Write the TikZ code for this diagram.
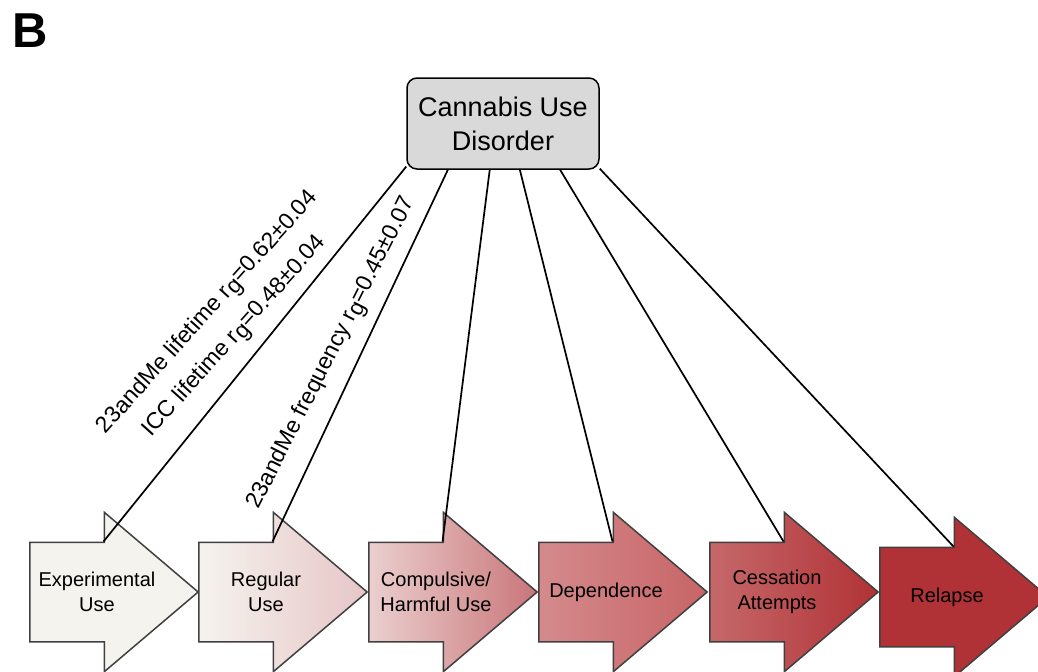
\documentclass[tikz,border=0pt]{standalone}
\usepackage{fontspec}
\setmainfont{Liberation Sans}
\usetikzlibrary{shapes.arrows}

\definecolor{cream}{HTML}{F5F3EE}
\definecolor{blush}{HTML}{E6C6C6}
\definecolor{rose}{HTML}{EBCFCF}
\definecolor{mauve}{HTML}{C97679}
\definecolor{dusty}{HTML}{D48A8C}
\definecolor{clay}{HTML}{C86467}
\definecolor{brick}{HTML}{C5686A}
\definecolor{crimson}{HTML}{B13236}
\definecolor{boxgray}{HTML}{D9D9D9}
\definecolor{edge}{HTML}{404040}

\tikzset{
  stage/.style = {single arrow, draw = edge, line width = 0.75pt,
    inner xsep = 27.08pt, inner ysep = 24.5pt, single arrow head extend = 15pt,
    single arrow tip angle = 80.7, anchor = tail},
  stagetext/.style = {align = center, inner sep = 0pt,
    font = \fontsize{10}{12.5}\selectfont},
  link/.style = {line width = 0.85pt},
  rglabel/.style = {sloped, above = 4pt, align = center, inner sep = 2pt,
    font = \fontsize{11.5}{18}\selectfont}
}
\newcommand{\rg}{r\raisebox{-0.3ex}{g}}

\begin{document}
\begin{tikzpicture}[x = {(0.5pt,0pt)}, y = {(0pt,-0.5pt)}]
  \useasboundingbox (0,0) rectangle (1038,671);
  \node [font = \fontsize{24.5}{29}\selectfont\bfseries] (panel) at (30.5,30.5) {B};
  \node [draw = black, fill = boxgray, rounded corners = 5pt, line width = 0.75pt,
    minimum width = 96pt, minimum height = 45.5pt, inner sep = 0pt, align = center,
    font = \fontsize{13.5}{17}\selectfont] (cud) at (503,123.5) {Cannabis Use\\Disorder};
  \node [stage, fill = cream] (exper) at (29,592) {};
  \node [stage, left color = cream, right color = blush] (regular) at (198,592) {};
  \node [stage, left color = rose, right color = mauve] (compul) at (368,592) {};
  \node [stage, left color = dusty, right color = clay] (depend) at (538,592) {};
  \node [stage, left color = brick, right color = crimson] (cessat) at (709,592) {};
  \node [stage, fill = crimson] (relapse) at (879,597) {};
  \node [stagetext] (expertext) at ([xshift = 34pt] exper.tail) {Experimental\\Use};
  \node [stagetext] (regulartext) at ([xshift = 34pt] regular.tail) {Regular\\Use};
  \node [stagetext] (compultext) at ([xshift = 34pt] compul.tail) {Compulsive/\\Harmful Use};
  \node [stagetext] (dependtext) at ([xshift = 34pt] depend.tail) {Dependence};
  \node [stagetext] (cessattext) at ([xshift = 34pt] cessat.tail) {Cessation\\Attempts};
  \node [stagetext] (relapsetext) at ([xshift = 34pt] relapse.tail) {Relapse};
  \draw [link] (exper.before head) -- node [rglabel, pos = 0.5, rotate = -3] {23andMe lifetime \rg=0.62±0.04\\ICC lifetime \rg=0.48±0.04} (cud.-156);
  \draw [link] (regular.before head) -- node [rglabel, pos = 0.475, rotate = -1.5] {23andMe frequency \rg=0.45±0.07} (cud.-140);
  \draw [link] (compul.before head) -- (cud.-106);
  \draw [link] (depend.before head) -- (cud.-70);
  \draw [link] (cessat.before head) -- (cud.-39);
  \draw [link] (relapse.before head) -- (cud.-25);
\end{tikzpicture}
\end{document}
